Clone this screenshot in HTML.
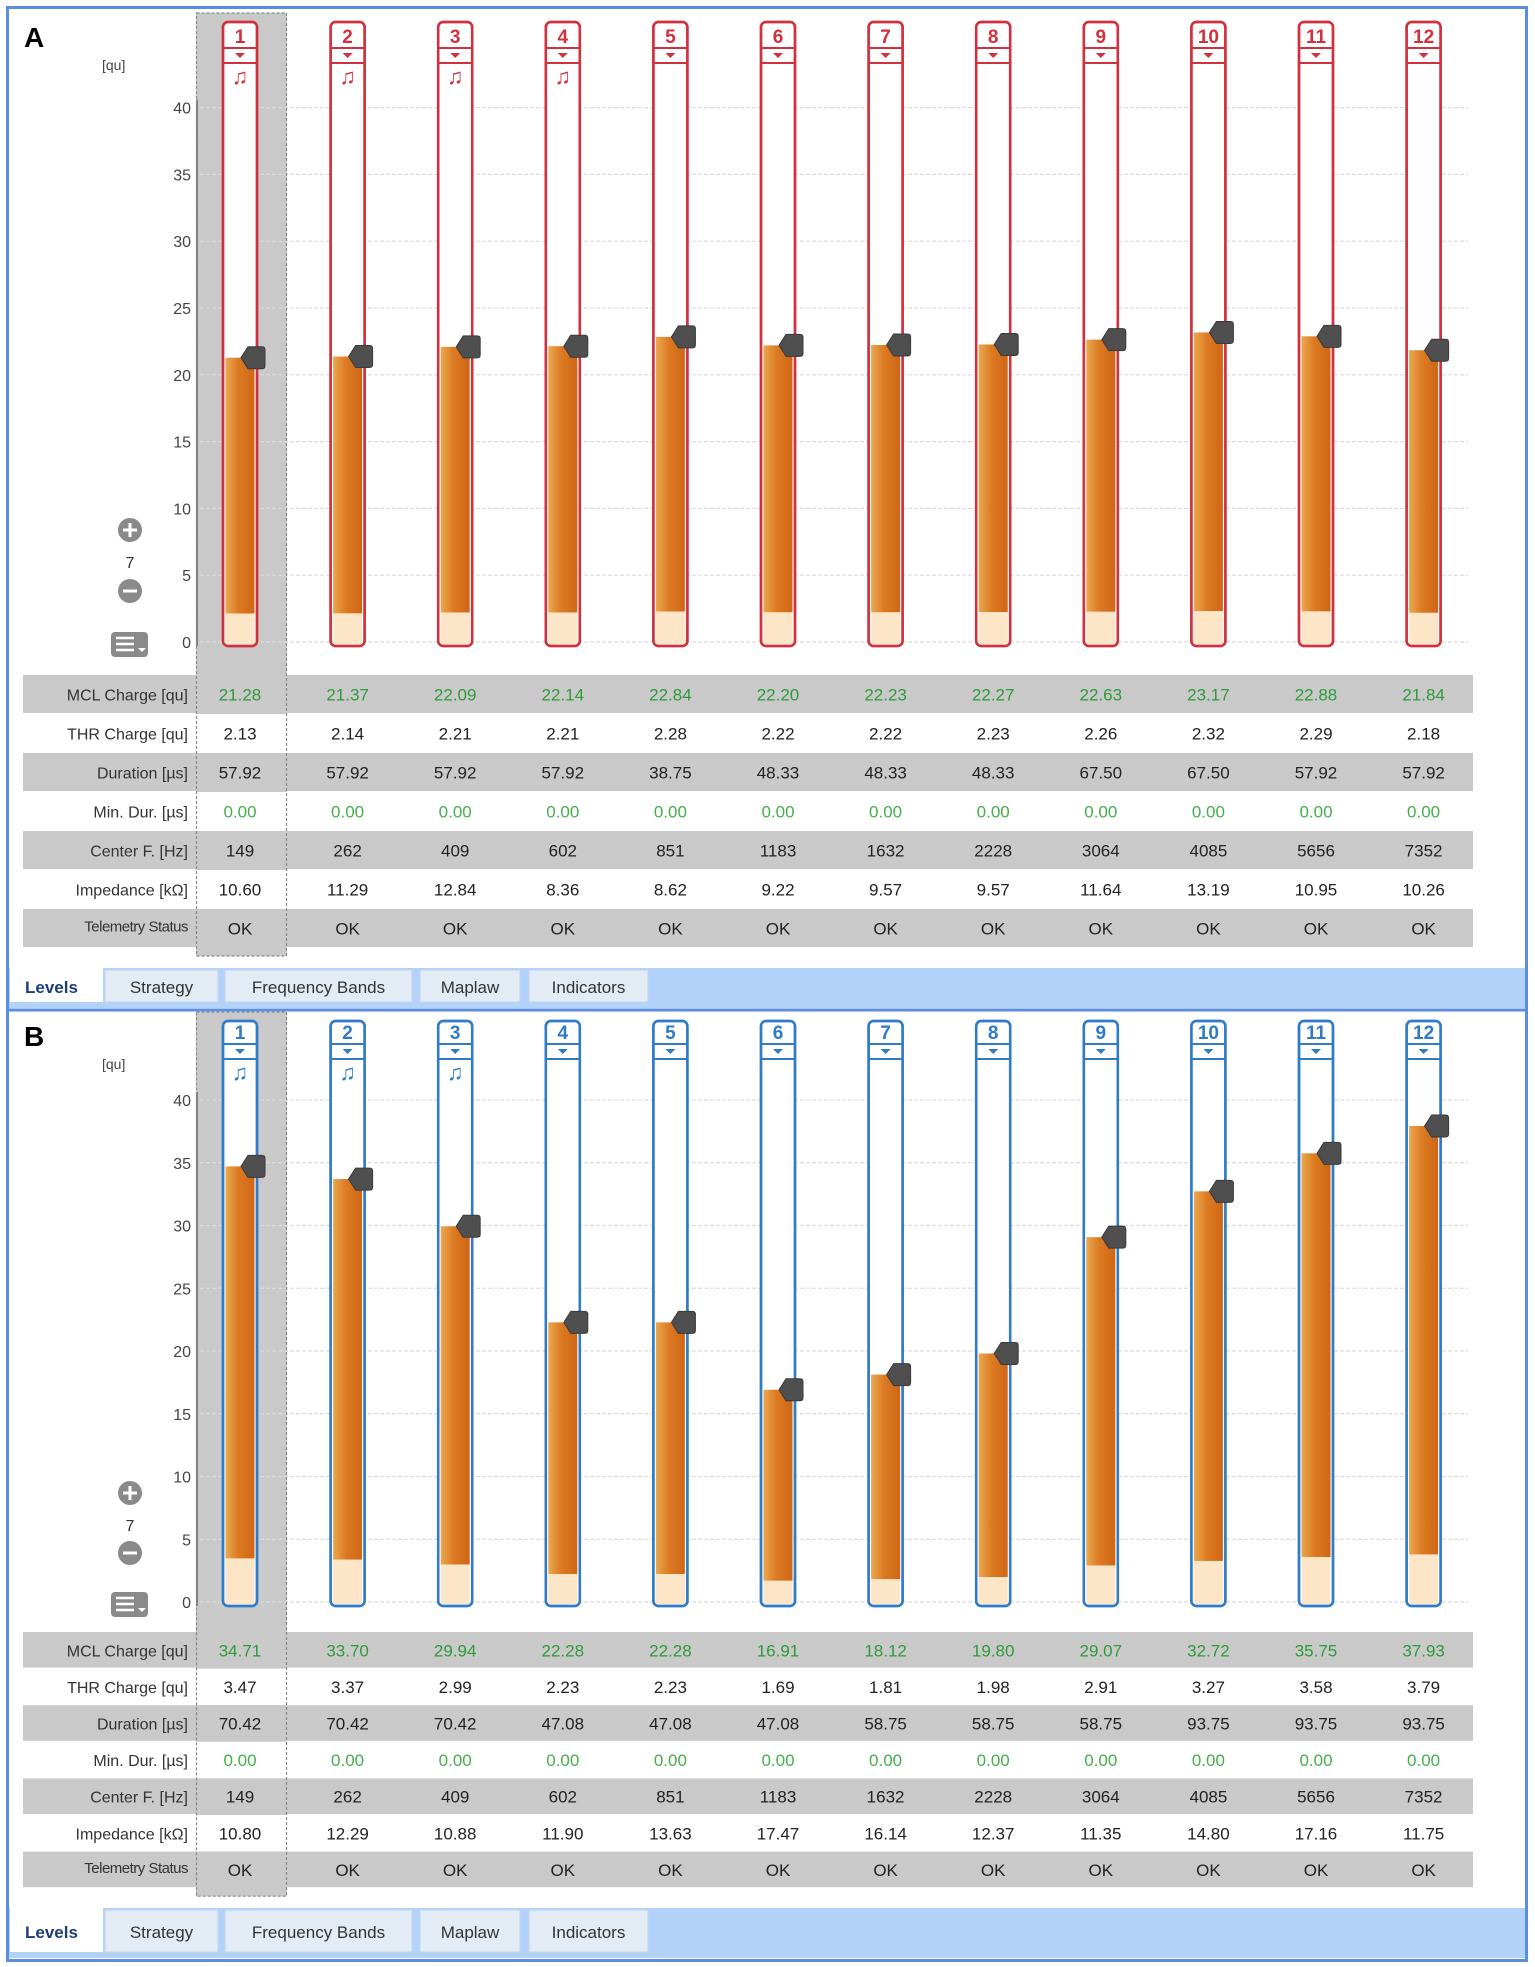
<!DOCTYPE html>
<html><head><meta charset="utf-8"><style>
html,body{margin:0;padding:0;background:#fff}
svg{display:block}
text{font-family:"Liberation Sans",sans-serif}
</style></head><body>
<svg id="c" width="1535" height="1967" viewBox="0 0 1535 1967" xmlns="http://www.w3.org/2000/svg"></svg>
<script>
const channels=[1,2,3,4,5,6,7,8,9,10,11,12];
const yTicks=[0,5,10,15,20,25,30,35,40];
const rowLabels=["MCL Charge [qu]","THR Charge [qu]","Duration  [\u00b5s]","Min. Dur. [\u00b5s]","Center F. [Hz]","Impedance [k\u03a9]","Telemetry Status"];
const tabNames=["Levels","Strategy","Frequency Bands","Maplaw","Indicators"];
const mclA=[21.28,21.37,22.09,22.14,22.84,22.20,22.23,22.27,22.63,23.17,22.88,21.84];
const thrA=[2.13,2.14,2.21,2.21,2.28,2.22,2.22,2.23,2.26,2.32,2.29,2.18];
const durA=["57.92","57.92","57.92","57.92","38.75","48.33","48.33","48.33","67.50","67.50","57.92","57.92"];
const impA=["10.60","11.29","12.84","8.36","8.62","9.22","9.57","9.57","11.64","13.19","10.95","10.26"];
const mclB=[34.71,33.70,29.94,22.28,22.28,16.91,18.12,19.80,29.07,32.72,35.75,37.93];
const thrB=[3.47,3.37,2.99,2.23,2.23,1.69,1.81,1.98,2.91,3.27,3.58,3.79];
const durB=["70.42","70.42","70.42","47.08","47.08","47.08","58.75","58.75","58.75","93.75","93.75","93.75"];
const impB=["10.80","12.29","10.88","11.90","13.63","17.47","16.14","12.37","11.35","14.80","17.16","11.75"];
const minDur=["0.00","0.00","0.00","0.00","0.00","0.00","0.00","0.00","0.00","0.00","0.00","0.00"];
const centerF=["149","262","409","602","851","1183","1632","2228","3064","4085","5656","7352"];
const telemetry=["OK","OK","OK","OK","OK","OK","OK","OK","OK","OK","OK","OK"];
const notesA=[1,1,1,1,0,0,0,0,0,0,0,0];
const notesB=[1,1,1,0,0,0,0,0,0,0,0,0];

const NS="http://www.w3.org/2000/svg";
const svg=document.getElementById('c');
function mk(tag,attrs,parent){const e=document.createElementNS(NS,tag);for(const k in attrs)e.setAttribute(k,attrs[k]);(parent||svg).appendChild(e);return e;}
function tx(str,x,y,attrs,parent){const e=mk('text',Object.assign({x:x,y:y},attrs),parent);e.textContent=str;return e;}

const defs=mk('defs',{});
const gr=mk('linearGradient',{id:'og',x1:'0',x2:'1',y1:'0',y2:'0'},defs);
mk('stop',{offset:'0','stop-color':'#eaa850'},gr);
mk('stop',{offset:'0.45','stop-color':'#dc7a22'},gr);
mk('stop',{offset:'1','stop-color':'#cf6616'},gr);

const fr=mk('rect',{x:7.5,y:7.5,width:1519,height:1953,fill:'none',stroke:'#5b8ee0','stroke-width':3});


const dv=mk('line',{x1:7,x2:1527,y1:1010,y2:1010,stroke:'#5b8ee0','stroke-width':3});



function drawPanel(p){
  const g=mk('g',{});
  
  
  const cx=i=>240+i*107.6;
  const y=v=>p.y0-v*p.k;
  const L=tx(p.id,24,p.top+40,{'font-size':28,'font-weight':'bold',fill:'#000'},g);
  
  
  const sel=mk('rect',{x:196,y:p.top+6,width:91,height:p.rowTop+7*p.rh+8-(p.top+6),fill:'#c9c9c9'},g);
  
  
  yTicks.forEach(t=>{
    const gl=mk('line',{x1:200,x2:1468,y1:y(t),y2:y(t),stroke:'#dcdcdc','stroke-width':1.2,'stroke-dasharray':'4 2'},g);
    
    
    const tl=tx(String(t),191,y(t)+6,{'font-size':16,fill:'#444','text-anchor':'end'},g);
    
    
  });
  const ax=mk('line',{x1:197,x2:197,y1:y(40)-8,y2:y(0)+4,stroke:'#666','stroke-width':1.5},g);
  
  
  const un=tx('[qu]',102,p.top+63,{'font-size':14,fill:'#444'},g);
  
  
  const pl=mk('g',{},g);
  
  
  mk('circle',{cx:130,cy:p.plusY,r:12,fill:'#8a8a8a'},pl);
  mk('path',{d:`M123 ${p.plusY}h14M130 ${p.plusY-7}v14`,stroke:'#fff','stroke-width':3},pl);
  const zv=tx('7',130,p.plusY+38,{'font-size':16,fill:'#333','text-anchor':'middle'},g);
  
  
  const mi=mk('g',{},g);
  
  
  mk('circle',{cx:130,cy:p.plusY+p.minusOff,r:12,fill:'#8a8a8a'},mi);
  mk('path',{d:`M123 ${p.plusY+p.minusOff}h14`,stroke:'#fff','stroke-width':3},mi);
  const mn=mk('g',{},g);
  
  
  const my=y(0)-10;
  mk('rect',{x:111,y:my,width:37,height:25,rx:4,fill:'#8a8a8a'},mn);
  mk('path',{d:`M116 ${my+6}h18M116 ${my+12}h18M116 ${my+18}h18`,stroke:'#fff','stroke-width':2.5},mn);
  mk('path',{d:`M138 ${my+16}l4 4l4-4z`,fill:'#fff'},mn);
  channels.forEach((ch,i)=>{
    const c=cx(i);
    const cg=mk('g',{},g);
    
    
    const top=p.top+15, bot=y(0)+4;
    mk('rect',{x:c-17,y:top,width:34,height:bot-top,rx:5,fill:'#fff',stroke:p.col,'stroke-width':2.5},cg);
    const fb=mk('rect',{x:c-14.5,y:y(p.mcl[i]),width:29,height:y(p.thr[i])-y(p.mcl[i]),fill:'url(#og)'},cg);
    
    
    const tb=mk('rect',{x:c-14.5,y:y(p.thr[i]),width:29,height:y(0)+2-y(p.thr[i]),fill:'#fde6c8'},cg);
    
    
    mk('rect',{x:c-17,y:top,width:34,height:bot-top,rx:5,fill:'none',stroke:p.col,'stroke-width':2.5},cg);
    mk('line',{x1:c-16,x2:c+16,y1:top+p.hb,y2:top+p.hb,stroke:p.col,'stroke-width':2},cg);
    mk('line',{x1:c-16,x2:c+16,y1:top+p.hb+15,y2:top+p.hb+15,stroke:p.col,'stroke-width':2},cg);
    mk('path',{d:`M${c-5} ${top+p.hb+5}h10l-5 5z`,fill:p.col},cg);
    const nt=tx(String(ch),c,top+p.hb-5,{'font-size':19,'font-family':'Liberation Serif, serif','font-weight':'bold',fill:p.col,'text-anchor':'middle'},cg);
    
    
    if(p.notes[i]){const n=tx('\u266B',c,top+p.hb+36,{'font-size':22,'font-weight':'bold',fill:p.col,'text-anchor':'middle','font-family':'DejaVu Sans, sans-serif'},cg);
      
      }
    const m=y(p.mcl[i]);
    const h=mk('path',{d:`M${c+1} ${m}L${c+8} ${m-11}H${c+22}Q${c+25} ${m-11} ${c+25} ${m-8}V${m+8}Q${c+25} ${m+11} ${c+22} ${m+11}H${c+8}Z`,fill:'#4f4f4f',stroke:'#3a3a3a','stroke-width':1},cg);
    
    
  });
  const rowsData=[p.mcl.map(v=>v.toFixed(2)),p.thr.map(v=>v.toFixed(2)),p.dur,minDur,centerF,p.imp,telemetry];
  const colors=['#2f9a3a','#222','#222','#44b04a','#222','#222','#222'];
  rowLabels.forEach((lab,r)=>{
    const ry=p.rowTop+r*p.rh;
    const rg=mk('g',{},g);
    
    
    if(r%2===0) mk('rect',{x:23,y:ry,width:1450,height:p.rh-1,fill:'#c9c9c9'},rg);
    else {mk('rect',{x:23,y:ry,width:1450,height:p.rh,fill:'#fff'},rg);}
    const lt=tx(lab,188,ry+p.rh/2+(r===6?3:6),{'font-size':r===6?15:16,fill:'#333','text-anchor':'end','letter-spacing':r===6?'-0.5':'0'},rg);
    
    
    rowsData[r].forEach((v,i)=>{
      const vt=tx(v,cx(i),ry+p.rh/2+6,{'font-size':17,fill:colors[r],'text-anchor':'middle'},rg);
      
      
    });
  });
  const sb=mk('rect',{x:196.5,y:p.top+6,width:90,height:p.rowTop+7*p.rh+8-(p.top+6),fill:'none',stroke:'#888','stroke-width':1.2,'stroke-dasharray':'3 2'},g);
  
  
  const tbg=mk('rect',{x:9,y:p.tabTop,width:1516,height:p.tabH,fill:'#b3d2fa'},g);
  
  
  const tabX=[[10,93],[105,113],[225,187],[420,100],[529,119]];
  tabNames.forEach((t,i)=>{
    const tgp=mk('g',{},g);
    
    
    if(i===0) mk('rect',{x:tabX[i][0],y:p.tabTop-2,width:tabX[i][1],height:p.tabH-4,fill:'#fff'},tgp);
    else mk('rect',{x:tabX[i][0],y:p.tabTop+2,width:tabX[i][1],height:p.tabH-8,fill:'#e3ebf5',stroke:'#c2d4ea'},tgp);
    tx(t,i===0?25:tabX[i][0]+tabX[i][1]/2,p.tabTop+p.tabH/2+5,{'font-size':17,fill:i===0?'#1c3d7a':'#333','font-weight':i===0?'bold':'normal','text-anchor':i===0?'start':'middle'},tgp);
  });
}
drawPanel({id:'A',top:7,y0:642,k:13.36,col:'#d2303c',hb:26,mcl:mclA,thr:thrA,dur:durA,imp:impA,notes:notesA,rowTop:675,rh:39,plusY:530,minusOff:61,tabTop:968,tabH:40});
drawPanel({id:'B',top:1006,y0:1602,k:12.55,col:'#2f7bc8',hb:23,mcl:mclB,thr:thrB,dur:durB,imp:impB,notes:notesB,rowTop:1632,rh:36.6,plusY:1493,minusOff:60,tabTop:1908,tabH:50});
</script>
</body></html>
